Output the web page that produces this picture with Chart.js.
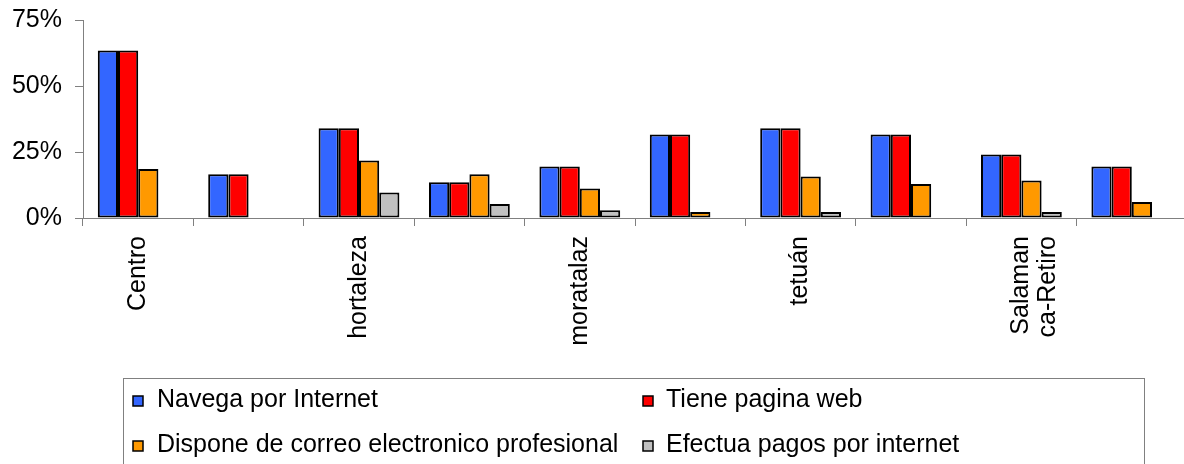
<!DOCTYPE html>
<html>
<head>
<meta charset="utf-8">
<script src="https://cdn.jsdelivr.net/npm/chart.js@4/dist/chart.umd.min.js"></script>
<style>
  html, body { margin: 0; padding: 0; background: #fff; }
  #wrap { width: 1184px; height: 464px; }
</style>
</head>
<body>
<div id="wrap"><canvas id="myChart" width="1184" height="464"></canvas></div>
<script>
// datos (porcentajes)
const distritos = ['Centro', '', 'hortaleza', '', 'moratalaz', '', 'tetuán', '', ['Salaman', 'ca-Retiro'], ''];
const navega    = [63.4, 16.6, 34.0, 13.5, 19.5, 31.6, 34.0, 31.6, 24.1, 19.5];
const paginaWeb = [63.4, 16.6, 34.0, 13.5, 19.5, 31.6, 34.0, 31.6, 24.1, 19.5];
const correo    = [18.6, null, 21.8, 16.6, 11.2, 2.3, 15.7, 12.9, 14.2, 6.1];
const pagos     = [null, null, 9.7, 5.3, 2.9, null, 2.3, null, 2.3, null];
const yTicks    = [0, 25, 50, 75];

const FONT = '"Liberation Sans", Arial, sans-serif';

// el área del gráfico sobresale un poco por la derecha, como en el original
const extendRight = {
  id: 'extendRight',
  afterLayout(chart) {
    const s = chart.scales.x;
    s.right = 1187;
    s.width = s.right - s.left;
    s.configure();
    chart.chartArea.right = 1187;
    chart.chartArea.width = chart.chartArea.right - chart.chartArea.left;
  }
};

// leyenda con recuadro, dos columnas (como en Excel)
const legendBox = {
  id: 'legendBox',
  afterDraw(chart) {
    const ctx = chart.ctx;
    ctx.save();
    ctx.strokeStyle = '#808080';
    ctx.lineWidth = 1;
    ctx.strokeRect(123.5, 378.5, 1021, 100);
    ctx.font = '25px ' + FONT;
    ctx.textBaseline = 'alphabetic';
    chart.data.datasets.forEach((ds, i) => {
      const col = i % 2, row = Math.floor(i / 2);
      const x = 133 + col * 510;
      const y = 407 + row * 45;
      ctx.fillStyle = ds.backgroundColor;
      ctx.fillRect(x, y - 11, 10, 10);
      ctx.strokeStyle = '#000';
      ctx.lineWidth = 1.5;
      ctx.strokeRect(x, y - 11, 10, 10);
      ctx.fillStyle = '#000';
      ctx.fillText(ds.label, x + 24 - col, y);
    });
    ctx.restore();
  }
};

function serie(label, data, color) {
  return {
    label: label,
    data: data,
    backgroundColor: color,
    borderColor: '#000',
    borderWidth: 2,
    borderSkipped: false,
    categoryPercentage: 0.732,
    barPercentage: 1
  };
}

const ctx = document.getElementById('myChart').getContext('2d');
window._myChart = new Chart(ctx, {
  type: 'bar',
  data: {
    labels: distritos,
    datasets: [
      serie('Navega por Internet', navega, '#3366FF'),
      serie('Tiene pagina web', paginaWeb, '#FF0000'),
      serie('Dispone de correo electronico profesional', correo, '#FF9900'),
      serie('Efectua pagos por internet', pagos, '#C0C0C0')
    ]
  },
  options: {
    responsive: false,
    animation: false,
    layout: { padding: { top: 20, right: 0, bottom: 85, left: 0 } },
    plugins: {
      legend: { display: false },
      tooltip: { enabled: false }
    },
    scales: {
      x: {
        afterFit: s => { s.height = 161; s.paddingLeft = 0; s.paddingRight = 0; },
        grid: { drawOnChartArea: false, offset: true, tickLength: 8, color: '#808080' },
        border: { color: '#808080', width: 1 },
        ticks: {
          autoSkip: false,
          minRotation: 90,
          maxRotation: 90,
          padding: 10,
          color: '#000',
          font: { family: FONT, size: 25, lineHeight: 1.05 }
        }
      },
      y: {
        min: 0,
        max: 75,
        afterFit: s => { s.width = 83; s.paddingTop = 0; s.paddingBottom = 0; },
        afterBuildTicks: s => { s.ticks = yTicks.map(v => ({ value: v })); },
        grid: { drawOnChartArea: false, tickLength: 8, color: '#808080' },
        border: { color: '#808080', width: 1 },
        ticks: {
          padding: 13,
          color: '#000',
          font: { family: FONT, size: 25 },
          callback: v => v + '%'
        }
      }
    }
  },
  plugins: [extendRight, legendBox]
});
</script>
</body>
</html>
